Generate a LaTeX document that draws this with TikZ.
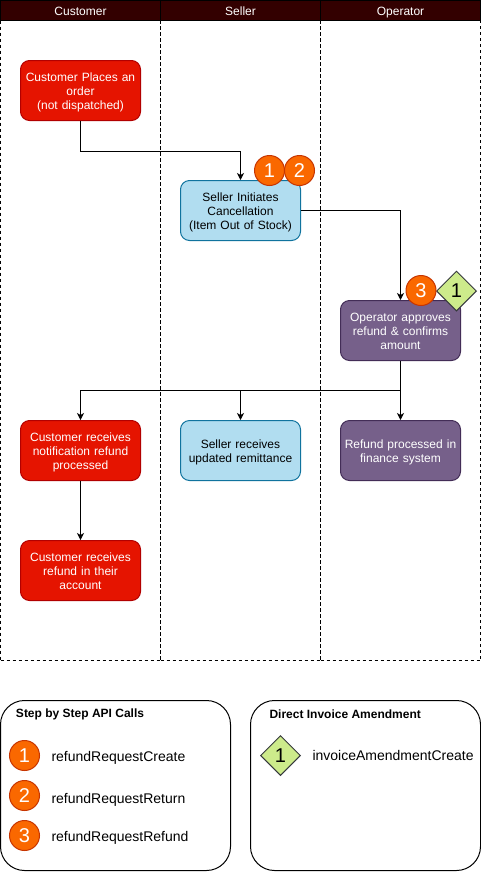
\documentclass[tikz,border=0pt]{standalone}
\usepackage{fontspec}
\setmainfont{Liberation Sans}
\usetikzlibrary{arrows.meta,shapes.geometric}
\definecolor{redf}{HTML}{E51400}\definecolor{redd}{HTML}{B20000}
\definecolor{bluef}{HTML}{B1DDF0}\definecolor{blued}{HTML}{10739E}
\definecolor{purf}{HTML}{76608A}\definecolor{purd}{HTML}{432D57}
\definecolor{orf}{HTML}{FA6800}\definecolor{ord}{HTML}{C73500}
\definecolor{grf}{HTML}{CDEB8B}\definecolor{grd}{HTML}{36393D}
\definecolor{hdr}{HTML}{330000}
\tikzset{
 base/.style={font=\fontsize{12}{14}\selectfont,align=center,inner sep=0pt,line width=1pt},
 struts/.style={execute at begin node={\leavevmode\rule{0pt}{13pt}},execute at end node={\rule[-3pt]{0pt}{3pt}}},
 box/.style={base,struts,rounded corners=9pt,minimum width=120pt,minimum height=60pt,text width=118pt},
 redbox/.style={box,fill=redf,draw=redd,text=white},
 bluebox/.style={box,fill=bluef,draw=blued,text=black},
 purbox/.style={box,fill=purf,draw=purd,text=white},
 lane/.style={draw=black,dashed,line width=0.8pt,dash pattern=on 3pt off 3pt,inner sep=0pt,minimum width=160pt,minimum height=640pt},
 lanehead/.style={base,struts,fill=hdr,draw=black,text=white,minimum width=160pt,minimum height=20pt,text width=158pt},
 badge/.style={base,circle,fill=orf,draw=ord,text=white,minimum size=30pt,font=\fontsize{20}{22}\selectfont},
 gem/.style={base,diamond,aspect=1,fill=grf,draw=grd,text=black,minimum size=40pt,font=\fontsize{20}{22}\selectfont},
 panel/.style={draw=black,line width=1pt,rounded corners=24pt,inner sep=0pt},
 lbl/.style={base,anchor=west,align=left,font=\fontsize{14}{16}\selectfont},
 ttl/.style={base,anchor=west,align=left,font=\fontsize{12}{14}\selectfont\bfseries},
 flow/.style={draw=black,line width=1pt,-{Stealth[length=7pt,width=7pt,inset=2pt]}},
 link/.style={draw=black,line width=1pt},
}
\begin{document}
\begin{tikzpicture}[x=1pt,y=-1pt]
\useasboundingbox (0,0) rectangle (481,879);
\fill[white] (0,0) rectangle (481,879);
% lanes
\node[lane] (l1) at (80.5,340.5) {};
\node[lane] (l2) at (240.5,340.5) {};
\node[lane] (l3) at (400.5,340.5) {};
\node[lanehead] (h1) at (80.5,10.5) {Customer};
\node[lanehead] (h2) at (240.5,10.5) {Seller};
\node[lanehead] (h3) at (400.5,10.5) {Operator};
% boxes
\node[redbox] (a) at (80.5,90.5) {Customer Places an\\order\\(not dispatched)};
\node[bluebox] (b) at (240.5,210.5) {Seller Initiates\\Cancellation\\(Item Out of Stock)};
\node[purbox] (c) at (400.5,330.5) {Operator approves\\refund \& confirms\\amount};
\node[redbox] (d) at (80.5,450.5) {Customer receives\\notification refund\\processed};
\node[bluebox] (e) at (240.5,450.5) {Seller receives\\updated remittance};
\node[purbox] (f) at (400.5,450.5) {Refund processed in\\finance system};
\node[redbox] (g) at (80.5,570.5) {Customer receives\\refund in their\\account};
% connectors
\draw[flow] (a.south) -- ++(0,30) -| (b.north);
\draw[flow] (b.east) -| (c.north);
\coordinate (j) at (400.5,390.5);
\draw[link] (c.south) -- (j);
\draw[flow] (j) -| (d.north);
\draw[flow] (j) -| (e.north);
\draw[flow] (j) -- (f.north);
\draw[flow] (d.south) -- (g.north);
% badges
\node[gem] (g1) at (456.5,291) {1};
\node[badge] (b1) at (269.5,170.5) {1};
\node[badge] (b2) at (299.5,170.5) {2};
\node[badge] (b3) at (421,290.5) {3};
% legend
\draw[panel] (0.5,700.5) rectangle (230.5,870.5);
\draw[panel] (250.5,700.5) rectangle (480.5,870.5);
\node[ttl] (t1) at (15.5,714.5) {Step by Step API Calls};
\node[ttl] (t2) at (269,714.5) {Direct Invoice Amendment};
\node[badge] (k1) at (24.5,755.5) {1};
\node[badge] (k2) at (24.5,795.5) {2};
\node[badge] (k3) at (24.5,835.5) {3};
\node[gem] (k4) at (280.5,755.5) {1};
\node[lbl] (n1) at (51,757.5) {refundRequestCreate};
\node[lbl] (n2) at (51,799.5) {refundRequestReturn};
\node[lbl] (n3) at (51,837.5) {refundRequestRefund};
\node[lbl] (n4) at (312,755.5) {invoiceAmendmentCreate};
\end{tikzpicture}
\end{document}
